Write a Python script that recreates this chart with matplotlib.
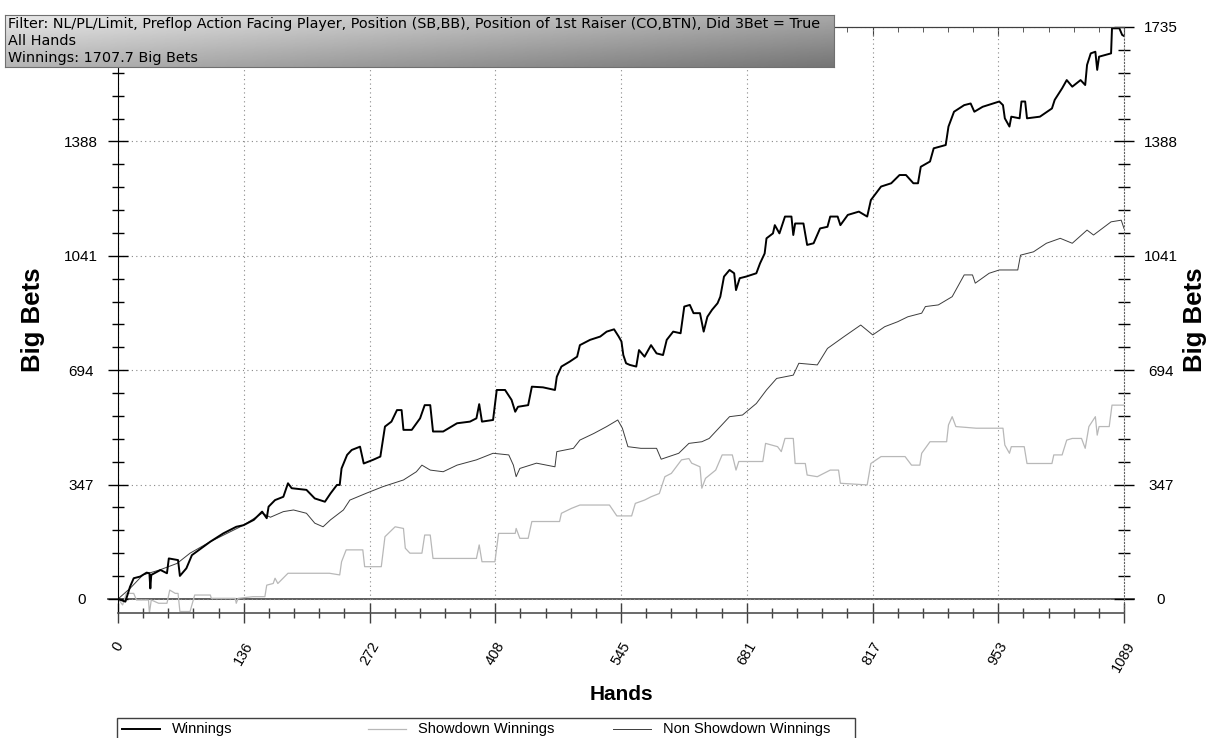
import numpy as np
import matplotlib.pyplot as plt
from matplotlib.patches import Rectangle
from matplotlib.lines import Line2D
from matplotlib.ticker import FixedLocator

plt.rcParams['font.family'] = ['Liberation Sans', 'DejaVu Sans']

# cumulative results (hand number, big bets)
hands_w = [0, 8, 13, 17, 24, 31, 34, 35, 36, 46, 53, 55, 65, 67, 74, 80, 100, 114, 128, 136,
           147, 156, 161, 163, 170, 179, 184, 188, 204, 213, 224, 230, 237, 240, 242, 248, 253,
           262, 266, 276, 284, 289, 296, 302, 307, 309, 318, 327, 332, 338, 341, 352, 367, 381,
           388, 391, 394, 406, 410, 419, 426, 430, 433, 444, 448, 460, 473, 475, 480, 489, 497,
           500, 511, 522, 529, 537, 542, 545, 547, 550, 554, 561, 564, 570, 577, 583, 590, 594,
           601, 609, 613, 619, 623, 630, 634, 638, 643, 649, 652, 656, 662, 667, 669, 673, 680,
           691, 695, 700, 702, 709, 711, 716, 722, 729, 731, 733, 742, 746, 753, 760, 768, 771,
           779, 782, 790, 802, 811, 815, 826, 837, 846, 853, 861, 866, 869, 879, 883, 896, 899,
           905, 916, 923, 927, 936, 954, 958, 960, 965, 967, 976, 978, 982, 984, 998, 1011, 1014,
           1022, 1027, 1033, 1042, 1047, 1049, 1053, 1058, 1060, 1062, 1075, 1076, 1084, 1087, 1089]
winnings = [0, -8, 37, 63, 68, 80, 78, 32, 73, 88, 78, 123, 118, 70, 93, 133, 174, 199, 219, 224,
            240, 265, 245, 280, 300, 310, 351, 336, 331, 305, 295, 320, 346, 346, 396, 437, 452,
            462, 411, 422, 432, 523, 538, 573, 573, 513, 513, 548, 588, 588, 508, 508, 533, 538,
            548, 591, 538, 543, 634, 634, 604, 568, 583, 588, 644, 642, 634, 674, 705, 720, 735,
            770, 786, 796, 811, 818, 796, 781, 740, 715, 710, 705, 755, 735, 770, 745, 740, 786,
            811, 806, 887, 892, 867, 867, 811, 856, 877, 897, 917, 978, 998, 988, 937, 973, 978,
            988, 1018, 1048, 1094, 1109, 1134, 1109, 1160, 1160, 1104, 1139, 1139, 1074, 1079, 1124, 1129, 1160,
            1160, 1134, 1165, 1175, 1160, 1210, 1251, 1261, 1286, 1286, 1261, 1261, 1311, 1327, 1367, 1377, 1433,
            1478, 1498, 1503, 1478, 1493, 1509, 1498, 1458, 1433, 1463, 1458, 1509, 1509, 1458, 1463, 1488, 1514,
            1549, 1574, 1554, 1574, 1559, 1620, 1655, 1660, 1605, 1645, 1655, 1731, 1731, 1711, 1707.7]

hands_sd = [0, 5, 9, 17, 20, 33, 34, 36, 44, 53, 56, 62, 65, 67, 78, 83, 100, 101, 127, 128, 130,
            146, 159, 161, 168, 170, 173, 184, 229, 240, 242, 247, 265, 267, 285, 289, 300, 309,
            311, 316, 329, 332, 338, 341, 388, 391, 394, 408, 412, 430, 431, 435, 444, 448, 478,
            480, 491, 500, 532, 540, 556, 560, 570, 577, 586, 592, 599, 610, 618, 621, 630, 632,
            636, 647, 654, 665, 669, 672, 698, 701, 714, 718, 722, 731, 733, 744, 746, 757, 771,
            780, 782, 811, 815, 826, 852, 859, 868, 870, 879, 897, 899, 903, 907, 929, 958, 960,
            965, 967, 981, 984, 1011, 1013, 1022, 1027, 1033, 1043, 1047, 1051, 1058, 1060, 1062,
            1073, 1076, 1087, 1089]
showdown = [0, -18, 17, 17, -3, -3, -43, -3, -13, -13, 27, 17, 17, -38, -38, 12, 12, 2, 2, -13, 2,
            7, 7, 42, 47, 63, 47, 78, 78, 73, 113, 149, 149, 98, 98, 189, 219, 214,
            154, 139, 139, 194, 194, 123, 123, 164, 113, 113, 199, 199, 214, 184, 184, 235, 235,
            260, 275, 285, 285, 252, 252, 290, 300, 310, 320, 371, 381, 422, 426, 412, 401, 336,
            366, 391, 437, 437, 391, 417, 417, 472, 462, 447, 487, 487, 411, 411, 376, 371, 391,
            391, 351, 346, 411, 432, 432, 406, 406, 442, 477, 477, 528, 553, 523, 518, 518, 467,
            442, 462, 462, 411, 411, 437, 437, 482, 487, 487, 457, 523, 553, 497, 523,
            523, 588, 588, 588]

hands_ns = [0, 13, 27, 45, 64, 78, 100, 136, 156, 165, 179, 190, 204, 213, 222, 230, 244, 251, 269,
            287, 309, 323, 329, 338, 352, 367, 388, 406, 423, 428, 431, 435, 453, 473, 475, 493,
            500, 515, 529, 541, 546, 552, 566, 583, 588, 607, 618, 632, 640, 662, 676, 691, 702,
            713, 731, 737, 757, 768, 786, 804, 817, 830, 844, 855, 870, 874, 888, 903, 916, 925,
            928, 943, 954, 974, 977, 991, 1005, 1020, 1033, 1049, 1056, 1075, 1086, 1089]
non_showdown = [0, 32, 73, 88, 108, 139, 174, 224, 260, 248, 265, 270, 260, 230, 219, 240, 270, 300, 321,
                341, 361, 386, 406, 391, 386, 406, 422, 442, 437, 406, 371, 396, 412, 401, 447, 457,
                482, 502, 523, 543, 518, 462, 457, 457, 424, 442, 472, 477, 487, 553, 558, 593, 634,
                669, 679, 715, 710, 760, 796, 831, 801, 826, 841, 856, 867, 887, 892, 917, 983, 983,
                958, 988, 998, 998, 1043, 1053, 1079, 1094, 1079, 1119, 1104, 1144, 1149, 1124]

x_labels = ['0', '136', '272', '408', '545', '681', '817', '953', '1089']
y_labels = ['0', '347', '694', '1041', '1388', '1735']
header = ['Filter: NL/PL/Limit, Preflop Action Facing Player, Position (SB,BB), Position of 1st Raiser (CO,BTN), Did 3Bet = True',
          'All Hands',
          'Winnings: 1707.7 Big Bets']
legend_names = ['Winnings', 'Showdown Winnings', 'Non Showdown Winnings']
line_colors = ['black', '#b8b8b8', '#3c3c3c']
line_widths = [1.4, 0.9, 0.7]

W, H = 1222, 738
fig = plt.figure(figsize=(W / 100, H / 100), dpi=100)
ax = fig.add_axes([118 / W, 1 - 613 / H, 1006 / W, 586 / H])

ax.plot(hands_sd, showdown, color=line_colors[1], lw=line_widths[1])
ax.plot(hands_ns, non_showdown, color=line_colors[2], lw=line_widths[2])
ax.plot(hands_w, winnings, color=line_colors[0], lw=line_widths[0])
ax.axhline(0, xmin=-0.01, xmax=1.01, color='#505050', lw=1.3, clip_on=False, zorder=1.5)

ax.set_xlim(0, 1089)
ax.set_ylim(-42.5, 1735)

xt = np.linspace(0, 1089, 9)
yt = [int(v) for v in y_labels]
ax.set_xticks(xt)
ax.set_xticklabels(x_labels, rotation=60, ha='center', va='top')
ax.xaxis.set_minor_locator(FixedLocator(np.linspace(0, 1089, 41)))
ax.set_yticks(yt)
ax.set_yticklabels(y_labels)
ax.yaxis.set_minor_locator(FixedLocator(np.linspace(0, 1735, 26)))

ax.grid(which='major', linestyle=(0, (1, 3)), color='#888888', lw=0.8)
ax.tick_params(axis='x', which='major', direction='inout', length=14.5, width=1, color='#404040',
               labelsize=10.5, pad=12)
ax.tick_params(axis='x', which='minor', direction='inout', length=7, width=1, color='#404040')
ax.tick_params(axis='y', which='major', direction='inout', length=15, width=1, right=True,
               labelright=True, labelsize=11, pad=19)
ax.tick_params(axis='y', which='minor', direction='inout', length=8, width=1, right=True)
for t in ax.yaxis.get_major_ticks():
    t.label1.set_ha('center')
    t.label2.set_ha('center')
# the left 1735 label sits under the filter box
ax.yaxis.get_major_ticks()[-1].label1.set_visible(False)

top = ax.secondary_xaxis('top')
top.set_xticks(xt, labels=[''] * len(xt))
top.xaxis.set_minor_locator(FixedLocator(np.linspace(0, 1089, 41)))
top.tick_params(which='major', direction='in', length=6.5, color='#404040')
top.tick_params(which='minor', direction='in', length=3.6, color='#404040')
top.spines['top'].set_color('#404040')

ax.spines['left'].set_color('black')
ax.spines['bottom'].set_color('#505050')
ax.spines['bottom'].set_linewidth(1.2)
ax.spines['top'].set_color('#404040')
ax.spines['right'].set_linestyle((0, (1, 2)))
ax.spines['right'].set_color('#606060')

fig.text(33 / W, 1 - 320 / H, 'Big Bets', rotation=90, fontsize=18.5, fontweight='bold',
         ha='center', va='center')
fig.text(1195 / W, 1 - 320 / H, 'Big Bets', rotation=90, fontsize=18.5, fontweight='bold',
         ha='center', va='center')
fig.text(621 / W, 1 - 695 / H, 'Hands', fontsize=15, fontweight='bold', ha='center', va='center')

# filter box in the top left corner
hax = fig.add_axes([5 / W, 1 - 67 / H, 829 / W, 52 / H])
gx, gy = np.meshgrid(np.linspace(0, 1, 300), np.linspace(0, 1, 40))
grad = 0.91 - 0.25 * gx - 0.2 * gy
hax.imshow(grad, cmap='gray', vmin=0, vmax=1, aspect='auto', extent=(0, 1, 0, 1))
hax.set_xticks([])
hax.set_yticks([])
for s in hax.spines.values():
    s.set_color('#707070')
for txt, yb in zip(header, [0.75, 0.423, 0.096]):
    hax.text(3 / 829, yb, txt, transform=hax.transAxes, fontsize=10.4, family='DejaVu Sans',
             va='baseline', ha='left')

# legend strip below the chart
fig.add_artist(Rectangle((117 / W, 1 - 746 / H), 738 / W, 28 / H, transform=fig.transFigure,
                         fill=False, edgecolor='#404040', lw=1, clip_on=False))
for name, c, lw, x0 in zip(legend_names, line_colors, line_widths, [122, 368, 613]):
    fig.add_artist(Line2D([x0 / W, (x0 + 38) / W], [1 - 729 / H] * 2, color=c, lw=lw,
                          transform=fig.transFigure))
    fig.text((x0 + 50) / W, 1 - 733.5 / H, name, fontsize=10.5, va='baseline', ha='left')

fig.savefig('out.png', dpi=100)
